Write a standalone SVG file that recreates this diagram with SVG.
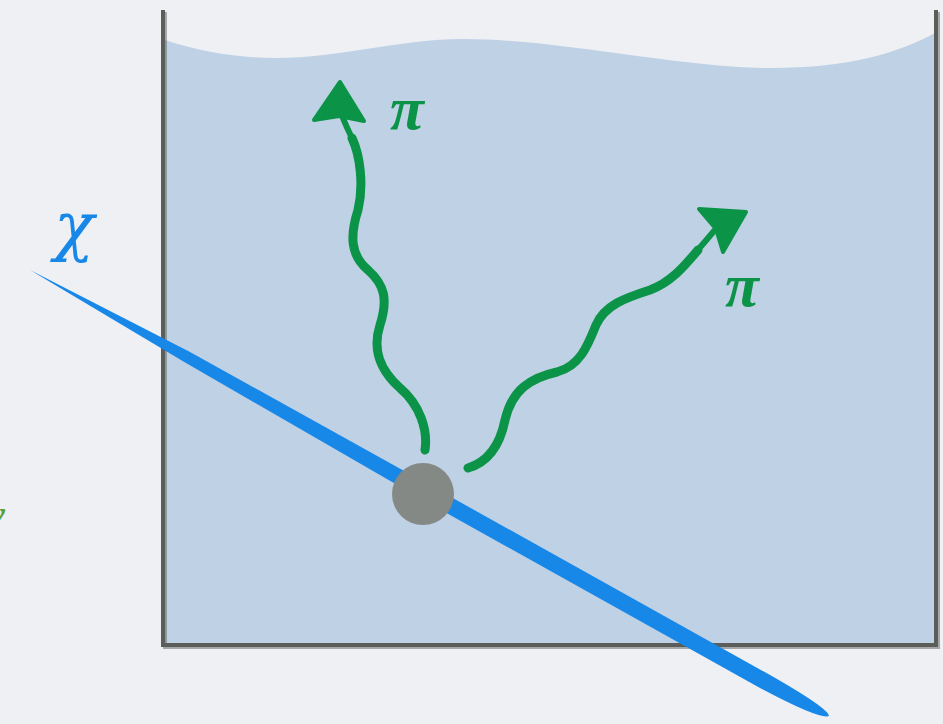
<svg xmlns="http://www.w3.org/2000/svg" width="943" height="724" viewBox="0 0 943 724">
<style>
.wall{fill:none;stroke:#5b5d5b;stroke-width:4;stroke-linecap:square}
.wave{fill:none;stroke:#0b9447;stroke-width:9;stroke-linecap:round;stroke-linejoin:round}
.thin{stroke-width:6}
.head{fill:#0b9447;stroke:#0b9447;stroke-width:4;stroke-linejoin:round}
.pi{font-family:"Liberation Serif",serif;font-style:italic;font-weight:bold;font-size:62px;fill:#0b9447}
</style>
<rect width="943" height="724" fill="#eef0f4"/>
<g id="container">
<path d="M165,40 C200,52 240,58 276,58 C340,58 400,39 463,39 C560,39 680,68 771,68 C850,68 900,52 935,33 L935,644 L165,644 Z" fill="#bfd1e5"/>
<path class="wall" d="M163,12 L163,645 L936,645 L936,12" stroke="#c9ccd0" stroke-width="6" opacity="0.5" transform="translate(2,2)"/>
<path class="wall" d="M163,12 L163,645 L936,645 L936,12"/>
</g>
<g id="chi-line">
<path d="M30,270 L190,352 L433,487 L770,675 Q828,708 829,716 Q820,720 760,688 L425,501 L186,363 Z" fill="#1787e8"/>
<text x="54" y="248" font-family="DejaVu Serif,serif" font-style="italic" font-size="66" fill="#1787e8">χ</text>
</g>
<g id="connectors">
<path class="wave" d="M425,450 C428,430 420,405 400,388 C380,370 372,350 380,325 C388,300 385,285 368,270 C350,255 350,235 358,210 C364,185 360,155 352,138"/>
<path class="wave thin" d="M353,140 C349,132 346,126 343,118"/>
<polygon class="head" points="340,82 364,121 339,116 314,120"/>
<path class="wave" d="M468,468 C488,462 500,445 505,420 C512,390 530,378 557,372 C580,366 588,345 596,325 C605,305 625,298 650,290 C672,282 686,264 698,250"/>
<path class="wave thin" d="M696,252 C703,244 709,237 714,231"/>
<polygon class="head" points="746,212 723,252 716,229 699,209"/>
</g>
<g id="vertex">
<circle cx="423" cy="494" r="31" fill="#858985"/>
</g>
<g id="labels">
<text class="pi" x="390" y="129">π</text>
<text class="pi" x="725" y="306">π</text>
<text x="-13" y="528" font-family="Liberation Serif,serif" font-style="italic" font-weight="bold" font-size="40" fill="#5aa03c">ν</text>
</g>
</svg>
